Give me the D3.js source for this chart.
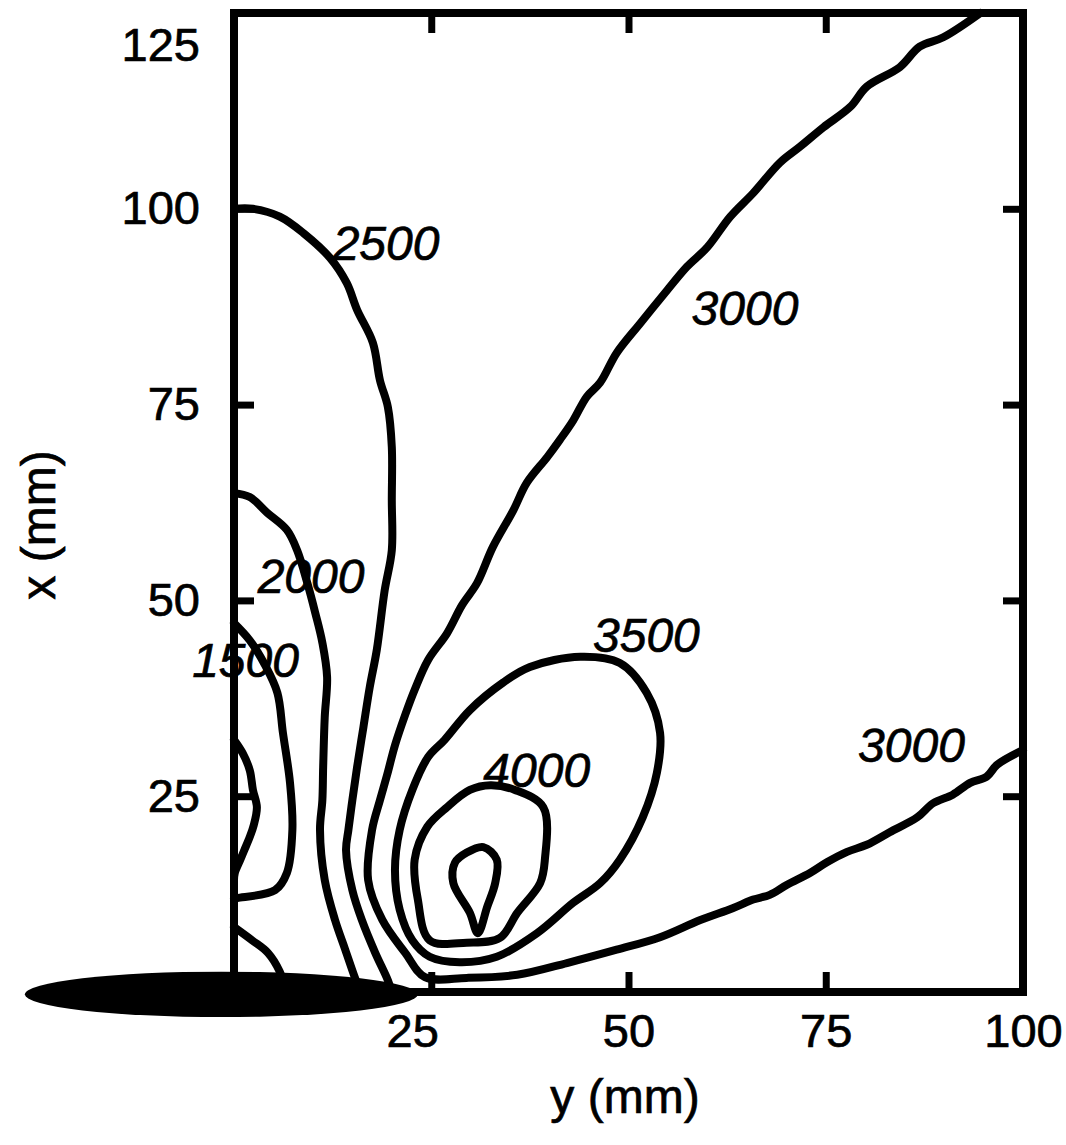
<!DOCTYPE html>
<html>
<head>
<meta charset="utf-8">
<script src="https://cdn.jsdelivr.net/npm/d3@7"></script>
<style>
  body { margin: 0; background: #fff; }
  svg { display: block; }
  text { font-family: "Liberation Sans", Arial, Helvetica, sans-serif; fill: #000; stroke: #000; stroke-width: 0.7px; }
</style>
</head>
<body>
<div id="chart"></div>
<script>
// tick values (mm)
var hTicks = [25, 50, 75, 100];
var vTicks = [25, 50, 75, 100, 125];

// contour lines, points are [y (mm), x (mm)]
var c1000 = [[0, 32.2], [1.1, 30.5], [2.0, 28.3], [2.4, 25.8], [2.9, 23.6], [2.5, 21.3],
  [2.0, 19.8], [1.3, 18.1], [0.8, 16.9], [0.1, 15.2], [0, 14.3]];
var c1500 = [[0, 47.1], [2.0, 44.9], [3.9, 41.8], [5.5, 38.2], [6.2, 33.1], [7.1, 26.7],
  [7.4, 20.7], [6.7, 15.2], [5.2, 13.0], [0.4, 12.0], [0, 11.9]];
var c1500b = [[0, 8.3], [2.3, 6.6], [4.3, 5.0], [5.8, 2.6], [6.6, 0]];
var c2000 = [[0, 63.7], [2.0, 63.2], [4.2, 61.2], [6.7, 59.0], [8.0, 56.4], [9.3, 52.2],
  [10.3, 48.4], [11.2, 44.6], [11.8, 40.2], [11.5, 35.1], [11.3, 28.7], [11.2, 24.5],
  [10.9, 20.7], [11.5, 14.3], [12.8, 9.2], [14.1, 5.4], [15.3, 1.9], [16.0, 0]];
var c2500 = [[0, 100], [2.4, 100], [5.8, 99.0], [8.8, 96.9], [12.2, 93.7], [14.3, 90.5],
  [15.6, 87.1], [17.6, 82.9], [18.5, 78.1], [19.5, 74.7], [20.0, 69.6], [20.0, 62.8],
  [20.0, 56.4], [19.1, 51.3], [18.1, 43.7], [17.2, 38.9], [16.4, 33.8], [15.6, 28.7],
  [15.0, 24.5], [14.5, 20.7], [14.2, 18.1], [15.0, 13.0], [16.2, 9.2], [17.9, 5.0],
  [19.5, 1.5], [20.0, 0]];
var c3000 = [[94.6, 125], [89.9, 121.9], [86.9, 120.7], [84.4, 118.1], [80.2, 115.6],
  [78.1, 113.0], [74.7, 110.4], [71.7, 107.9], [69.2, 105.9], [65.8, 102.0], [62.9, 99.0],
  [60.0, 95.1], [57.4, 92.6], [54.9, 89.6], [51.5, 85.4], [48.5, 81.6], [46.4, 77.8],
  [44.7, 76.0], [43.0, 73.0], [41.3, 70.5], [39.7, 68.3], [37.1, 65.0], [35.4, 61.5],
  [32.8, 56.8], [30.8, 52.2], [28.9, 49.4], [27.0, 45.8], [24.6, 42.4], [22.9, 38.6],
  [21.7, 35.4], [20.4, 31.5], [19.4, 27.7], [18.5, 24.5], [17.5, 20.7], [17.0, 14.3],
  [18.8, 9.2], [21.7, 5.0], [24.2, 1.9], [29.5, 1.8], [35.9, 2.2], [42.2, 3.7],
  [48.5, 5.4], [54.0, 7.0], [59.1, 9.2], [63.2, 10.7], [65.8, 11.8], [67.9, 12.4],
  [70.1, 13.7], [73.0, 15.2], [75.2, 16.6], [77.7, 17.9], [80.2, 18.8], [83.1, 20.4],
  [86.6, 22.3], [88.6, 24.1], [91.1, 25.2], [93.3, 26.7], [95.4, 27.5], [96.7, 29.0],
  [100, 30.9]];
var c3500 = [[43.9, 42.8], [48.9, 42.0], [52.3, 38.2], [54.0, 33.1], [53.6, 28.0],
  [51.8, 22.3], [48.9, 16.9], [46.4, 13.9], [43.0, 11.4], [38.4, 7.5], [33.3, 4.5],
  [28.6, 3.8], [24.8, 4.5], [22.6, 6.6], [21.0, 10.5], [20.4, 15.6], [21.0, 20.7],
  [22.6, 25.8], [24.6, 30.0], [26.7, 32.2], [29.9, 36.0], [34.1, 39.5], [37.5, 41.5]];
var c4000 = [[32.5, 26.4], [35.6, 25.8], [39.2, 23.6], [39.4, 16.9], [38.8, 13.9],
  [35.9, 10.1], [33.7, 6.9], [29.5, 6.3], [24.8, 6.6], [23.3, 11.8], [22.9, 16.9],
  [24.5, 21.1], [27.0, 23.6], [29.9, 25.8]];
var c4500 = [[31.6, 18.5], [33.3, 16.9], [33.1, 13.9], [32.1, 10.9], [30.9, 7.5],
  [29.9, 10.1], [27.8, 13.9], [28.0, 16.5], [29.5, 17.8]];

var openLines = [c1000, c1500, c1500b, c2000, c2500, c3000];
var closedLines = [c3500, c4000, c4500];

// contour labels: text, y (mm) of left edge, x (mm) of baseline
var labelText = ["2500", "3000", "2000", "1500", "3500", "4000", "3000"];
var labelH = [12.5, 58.0, 3.0, -5.3, 45.5, 31.6, 79.1];
var labelV = [93.5, 85.2, 50.9, 40.2, 43.4, 26.2, 29.4];

// nozzle / jet outline (mm)
var nozzle = { cy: -1.6, cx: -0.3, ry: 24.9, rx: 2.9 };

var W = 1066, H = 1145;
var svg = d3.select("#chart").append("svg")
  .attr("width", W)
  .attr("height", H);
svg.append("rect").attr("width", W).attr("height", H).attr("fill", "#fff");

var x = d3.scaleLinear().domain([0, 100]).range([234, 1023]);
var y = d3.scaleLinear().domain([0, 125]).range([992, 13]);

var line = d3.line()
  .x(function(d) { return x(d[0]); })
  .y(function(d) { return y(d[1]); })
  .curve(d3.curveCatmullRom.alpha(0.5));
var loop = d3.line()
  .x(function(d) { return x(d[0]); })
  .y(function(d) { return y(d[1]); })
  .curve(d3.curveCatmullRomClosed.alpha(0.5));

var plot = svg.append("g");
plot.selectAll(".open")
  .data(openLines)
  .join("path")
  .attr("class", "open")
  .attr("d", line)
  .attr("fill", "none")
  .attr("stroke", "#000")
  .attr("stroke-width", 8)
  .attr("stroke-linejoin", "round")
  .attr("stroke-linecap", "round");
plot.selectAll(".closed")
  .data(closedLines)
  .join("path")
  .attr("class", "closed")
  .attr("d", loop)
  .attr("fill", "none")
  .attr("stroke", "#000")
  .attr("stroke-width", 8)
  .attr("stroke-linejoin", "round");

// contour labels
plot.selectAll(".clab")
  .data(labelText)
  .join("text")
  .attr("class", "clab")
  .attr("x", function(d, i) { return x(labelH[i]); })
  .attr("y", function(d, i) { return y(labelV[i]); })
  .style("font-size", "48px")
  .style("font-style", "italic")
  .text(function(d) { return d; });

// frame
svg.append("rect")
  .attr("x", x(0)).attr("y", y(125))
  .attr("width", x(100) - x(0)).attr("height", y(0) - y(125))
  .attr("fill", "none")
  .attr("stroke", "#000")
  .attr("stroke-width", 8);

// axes, ticks point inward
function styleAxis(g) {
  g.select(".domain").remove();
  g.selectAll(".tick line").attr("stroke", "#000").attr("stroke-width", 7);
  g.selectAll(".tick text").style("font-size", "47px").attr("font-family", null).attr("fill", null);
}

svg.append("g")
  .attr("transform", "translate(0," + y(0) + ")")
  .call(d3.axisBottom(x).tickValues(hTicks).tickSize(-20).tickPadding(22))
  .call(styleAxis)
  .selectAll(".tick text")
  .attr("dx", function(d) { return d === 25 ? -19 : 0; });

svg.append("g")
  .attr("transform", "translate(0," + y(125) + ")")
  .call(d3.axisTop(x).tickValues(hTicks.slice(0, 3)).tickSize(-20).tickFormat(""))
  .call(styleAxis);

svg.append("g")
  .attr("transform", "translate(" + x(0) + ",0)")
  .call(d3.axisLeft(y).tickValues(vTicks).tickSize(-20).tickPadding(34))
  .call(styleAxis)
  .selectAll(".tick text")
  .attr("dy", function(d) { return d === 125 ? "1.0em" : "0.32em"; });

svg.append("g")
  .attr("transform", "translate(" + x(100) + ",0)")
  .call(d3.axisRight(y).tickValues(vTicks.slice(0, 4)).tickSize(-20).tickFormat(""))
  .call(styleAxis);

// nozzle drawn over the frame
svg.append("ellipse")
  .attr("cx", x(nozzle.cy))
  .attr("cy", y(nozzle.cx))
  .attr("rx", x(nozzle.ry) - x(0))
  .attr("ry", y(0) - y(nozzle.rx))
  .attr("fill", "#000");

// axis titles
svg.append("text")
  .attr("x", 625)
  .attr("y", 1113)
  .attr("text-anchor", "middle")
  .style("font-size", "48px")
  .text("y (mm)");

svg.append("text")
  .attr("transform", "translate(55,525) rotate(-90)")
  .attr("text-anchor", "middle")
  .style("font-size", "48px")
  .text("x (mm)");
</script>
</body>
</html>
